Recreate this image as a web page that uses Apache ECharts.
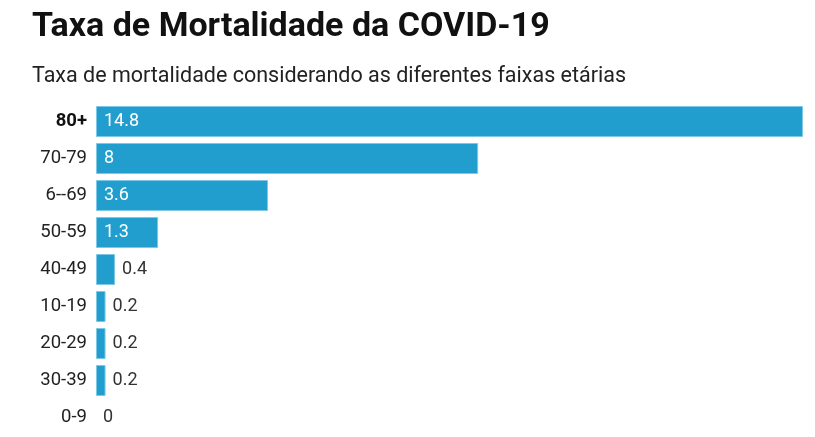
<!DOCTYPE html>
<html>
<head>
<meta charset="utf-8">
<script src="https://cdn.jsdelivr.net/npm/echarts@6/dist/echarts.min.js"></script>
<style>
html,body{margin:0;padding:0;background:#fff;}
#chart{width:815px;height:437px;}
</style>
</head>
<body>
<div id="chart"></div>
<script>
const titleText = 'Taxa de Mortalidade da COVID-19';
const subtitleText = 'Taxa de mortalidade considerando as diferentes faixas etárias';
const categories = ['80+', '70-79', '6--69', '50-59', '40-49', '10-19', '20-29', '30-39', '0-9'];
const values = [14.8, 8, 3.6, 1.3, 0.4, 0.2, 0.2, 0.2, 0];

const chart = echarts.init(document.getElementById('chart'));
const FONT = 'Roboto';
const data = values.map(v => ({
  value: v,
  itemStyle: v === 0 ? { borderWidth: 0 } : undefined,
  label: v >= 1
    ? { position: 'insideLeft', color: '#ffffff', distance: 8 }
    : { position: 'right', color: '#333333', distance: 7 }
}));

chart.setOption({
  animation: false,
  backgroundColor: '#ffffff',
  title: [{
    text: titleText,
    left: 32, top: 10, padding: 0,
    textStyle: { fontFamily: FONT, fontSize: 34, fontWeight: 'bold', color: '#111111' }
  }, {
    text: subtitleText,
    left: 32, top: 66, padding: 0,
    textStyle: { fontFamily: FONT, fontSize: 21.5, fontWeight: 'normal', color: '#222222' }
  }],
  grid: { left: 96, right: 12, top: 103, bottom: 1, containLabel: false },
  xAxis: {
    type: 'value', min: 0, max: 14.8, show: false,
    splitLine: { show: false }
  },
  yAxis: {
    type: 'category', data: categories, inverse: true,
    axisLine: { show: false }, axisTick: { show: false },
    axisLabel: {
      margin: 9, fontFamily: FONT, fontSize: 18.5, color: '#222222',
      formatter: (v, i) => i === 0 ? '{b|' + v + '}' : v,
      rich: { b: { fontFamily: FONT, fontSize: 18.5, fontWeight: 'bold', color: '#111111' } }
    }
  },
  series: [{
    type: 'bar',
    data: data,
    barWidth: 31,
    itemStyle: { color: '#219ecd', borderColor: '#7cc8e6', borderWidth: 1 },
    label: { show: true, fontFamily: FONT, fontSize: 18 }
  }]
});
</script>
</body>
</html>
